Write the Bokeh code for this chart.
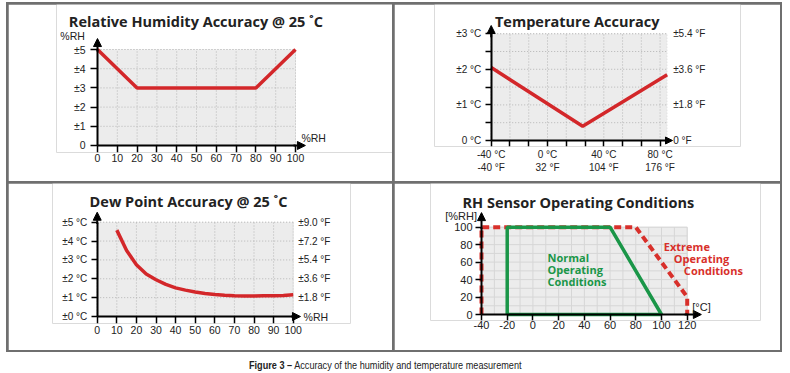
from bokeh.plotting import figure
from bokeh.models import FixedTicker, LinearAxis, Label, Arrow, NormalHead, BoxAnnotation, Div, Spacer
from bokeh.layouts import column, row
from bokeh.embed import file_html
from bokeh.resources import INLINE

TICK_FONT = "Liberation Sans"
TITLE_FONT = "Open Sans"
RED = "#d3272a"
RED_D = "#d8302b"
GREEN = "#1a9648"
GRID = "#b5b5b5"
BG = "#ececec"
FRAME = "#6f6f6f"
TXT = "#222222"

# ---------------- data ----------------
rh_x = [0, 20, 80, 100]
rh_acc = [5, 3, 3, 5]
rh_y_ticks = [0, 1, 2, 3, 4, 5]
rh_y_labels = ["0", "±1", "±2", "±3", "±4", "±5"]
rh_x_ticks = [0, 10, 20, 30, 40, 50, 60, 70, 80, 90, 100]
rh_x_labels = ["0", "10", "20", "30", "40", "50", "60", "70", "80", "90", "100"]

temp_c = [-40, 25, 85]
temp_acc = [2.05, 0.4, 1.85]
temp_x_ticks = [-40, 0, 40, 80]
temp_x_labels = ["-40 °C\n-40 °F", "0 °C\n32 °F", "40 °C\n104 °F", "80 °C\n176 °F"]
temp_x_minor = [-26.67, -13.33, 13.33, 26.67, 53.33, 66.67]
temp_y_ticks = [0, 1, 2, 3]
temp_y_minor = [0.5, 1.5, 2.5]
temp_y_labels_c = ["0 °C", "±1 °C", "±2 °C", "±3 °C"]
temp_y_labels_f = ["0 °F", "±1.8 °F", "±3.6 °F", "±5.4 °F"]

dp_rh = [10, 15, 20, 25, 30, 35, 40, 45, 50, 55, 60, 65, 70, 75, 80, 85, 90, 95, 100]
dp_acc = [4.58, 3.5, 2.75, 2.25, 1.95, 1.7, 1.52, 1.4, 1.3, 1.22, 1.17, 1.13, 1.1,
          1.09, 1.09, 1.1, 1.1, 1.12, 1.15]
dp_x_ticks = [0, 10, 20, 30, 40, 50, 60, 70, 80, 90, 100]
dp_x_labels = ["0", "10", "20", "30", "40", "50", "60", "70", "80", "90", "100"]
dp_y_ticks = [0, 1, 2, 3, 4, 5]
dp_y_labels_c = ["±0 °C", "±1 °C", "±2 °C", "±3 °C", "±4 °C", "±5 °C"]
dp_y_ticks_f = [1, 2, 3, 4, 5]
dp_y_labels_f = ["±1.8 °F", "±3.6 °F", "±5.4 °F", "±7.2 °F", "±9.0 °F"]

op_x_ticks = [-40, -20, 0, 20, 40, 60, 80, 100, 120]
op_x_labels = ["-40", "-20", "0", "20", "40", "60", "80", "100", "120"]
op_y_ticks = [0, 20, 40, 60, 80, 100]
op_y_labels = ["0", "20", "40", "60", "80", "100"]
op_grid_x = [-40, -30, -20, -10, 0, 10, 20, 30, 40, 50, 60, 70, 80, 90, 100, 110, 120]
op_grid_y = [0, 10, 20, 30, 40, 50, 60, 70, 80, 90, 100]
normal_t = [-20, -20, 60, 100, -20]
normal_rh = [0, 100, 100, 0, 0]
extreme_t = [-40, -40, 80, 120, 120]
extreme_rh = [0, 100, 100, 20, 0]


# ---------------- helpers ----------------
def base_fig(fw, fh, left, right, top, bottom, xr, yr):
    p = figure(frame_width=fw, frame_height=fh, x_range=xr, y_range=yr,
               min_border_left=left, min_border_right=right,
               min_border_top=top, min_border_bottom=bottom,
               x_axis_location=None,
               output_backend="svg", toolbar_location=None,
               background_fill_color="white", border_fill_color="white")
    p.outline_line_color = None
    p.xgrid.visible = False
    p.ygrid.visible = False
    return p


def plot_area(p, x0, x1, y0, y1, line_color="#a8a8a8", dash="1 2"):
    p.add_layout(BoxAnnotation(left=x0, right=x1, bottom=y0, top=y1, fill_color=BG, fill_alpha=1,
                               line_color=line_color, line_width=1, line_dash=dash, level="image"))


def grid_lines(p, xs, ys, x0, x1, y0, y1, color=GRID, dash="1 2"):
    p.segment(x0=xs, y0=[y0] * len(xs), x1=xs, y1=[y1] * len(xs),
              line_color=color, line_width=1, line_dash=dash)
    p.segment(x0=[x0] * len(ys), y0=ys, x1=[x1] * len(ys), y1=ys,
              line_color=color, line_width=1, line_dash=dash)


def style_axis(ax, ticks, labels, tick_out=6, standoff=4, size="10px", minor=None, line=True,
               loc=None, bounds=None):
    ax.ticker = FixedTicker(ticks=ticks, minor_ticks=minor or [])
    ax.major_label_overrides = dict(zip(ticks, labels))
    ax.axis_line_color = "black" if line else None
    ax.axis_line_width = 2
    ax.major_tick_line_color = "black" if line else None
    ax.major_tick_line_width = 1.5
    ax.major_tick_in = 0
    ax.major_tick_out = tick_out
    ax.minor_tick_line_color = "black" if (minor and line) else None
    ax.minor_tick_line_width = 1.5
    ax.minor_tick_in = 0
    ax.minor_tick_out = tick_out
    ax.major_label_standoff = standoff
    ax.major_label_text_font = TICK_FONT
    ax.major_label_text_font_size = size
    ax.major_label_text_color = TXT
    if loc is not None:
        ax.fixed_location = loc
    if bounds is not None:
        ax.bounds = bounds


def x_axes(p, ticks, labels, standoff, size, tick_out, bounds, minor=None):
    # labels: ordinary axis next to the frame (no line, no ticks)
    lab = LinearAxis()
    p.add_layout(lab, "below")
    style_axis(lab, ticks, labels, tick_out=0, standoff=standoff, size=size, line=False)
    # axis line + ticks drawn at y = 0
    tk = LinearAxis()
    p.add_layout(tk, "below")
    style_axis(tk, ticks, [""] * len(ticks), tick_out=tick_out, standoff=0, size="0px",
               minor=minor, loc=0, bounds=bounds)


def text(p, x, y, s, size="10.5px", font=TICK_FONT, bold=False, color=TXT, align="left",
         baseline="middle"):
    p.add_layout(Label(x=x, y=y, text=s, text_font=font,
                       text_font_size=size, text_font_style="bold" if bold else "normal",
                       text_color=color, text_align=align, text_baseline=baseline))


def title(p, x, y, s):
    text(p, x, y, s, size="14.5px", font=TITLE_FONT, bold=True, align="center",
         baseline="alphabetic")


def arrow(p, x0, y0, x1, y1, size=8):
    p.add_layout(Arrow(end=NormalHead(size=size, fill_color="black", line_color="black",
                                      line_width=1),
                       x_start=x0, y_start=y0, x_end=x1, y_end=y1,
                       line_color="black", line_width=2))


# ---------------- panel 1: RH accuracy ----------------
p1 = base_fig(336, 148, 48, 0, 0, 29, (-20.707, 148.99), (-0.3646, 7.344))
plot_area(p1, 0, 100, 0, 5)
grid_lines(p1, rh_x_ticks, rh_y_ticks, 0, 100, 0, 5)
style_axis(p1.yaxis[0], rh_y_ticks, rh_y_labels, tick_out=7, standoff=5, size="10.5px",
           loc=0, bounds=(0, 5))
x_axes(p1, rh_x_ticks, rh_x_labels, standoff=1, size="10.5px", tick_out=7, bounds=(0, 100))
p1.line(rh_x, rh_acc, line_color=RED, line_width=3.5)
arrow(p1, 0, 4.9, 0, 5.57)
arrow(p1, 99, 0, 105, 0)
title(p1, 49.7, 6.46, "Relative Humidity Accuracy @ 25 ˚C")
text(p1, -6.4, 5.7, "%RH", align="right")
text(p1, 103, 0.39, "%RH")

# ---------------- panel 2: temperature accuracy ----------------
p2 = base_fig(306, 142, 40, 40, 0, 35, (-80.28, 137.12), (-0.1685, 3.82))
plot_area(p2, -40, 85, 0, 3)
grid_lines(p2, temp_x_ticks + temp_x_minor, temp_y_ticks + temp_y_minor, -40, 85, 0, 3)
style_axis(p2.yaxis[0], temp_y_ticks, temp_y_labels_c, tick_out=6, standoff=4,
           minor=temp_y_minor, loc=-40, bounds=(0, 3))
x_axes(p2, temp_x_ticks, temp_x_labels, standoff=2, size="10px", tick_out=6,
       bounds=(-40, 85), minor=temp_x_minor)
ax2r = LinearAxis()
p2.add_layout(ax2r, "right")
style_axis(ax2r, temp_y_ticks, temp_y_labels_f, tick_out=0, standoff=6, line=False, loc=85)
p2.line(temp_c, temp_acc, line_color=RED, line_width=3.5)
arrow(p2, -40, 2.9, -40, 3.23)
arrow(p2, 84, 0, 88.8, 0, size=7)
title(p2, 21.1, 3.343, "Temperature Accuracy")

# ---------------- panel 3: dew point accuracy ----------------
p3 = base_fig(298, 140, 44, 42, 0, 27, (-22.81, 129.23), (-0.371, 7.052))
plot_area(p3, 0, 100, 0, 5)
grid_lines(p3, dp_x_ticks, dp_y_ticks, 0, 100, 0, 5)
style_axis(p3.yaxis[0], dp_y_ticks, dp_y_labels_c, tick_out=6, standoff=4, loc=0, bounds=(0, 5))
x_axes(p3, dp_x_ticks, dp_x_labels, standoff=2, size="10.5px", tick_out=7, bounds=(0, 100))
ax3r = LinearAxis()
p3.add_layout(ax3r, "right")
style_axis(ax3r, dp_y_ticks_f, dp_y_labels_f, tick_out=0, standoff=5, line=False, loc=100)
p3.line(dp_rh, dp_acc, line_color=RED, line_width=3.5)
arrow(p3, 0, 4.9, 0, 5.53)
arrow(p3, 99, 0, 103.7, 0)
title(p3, 46.6, 6.11, "Dew Point Accuracy @ 25 ˚C")
text(p3, 105.3, 0, "%RH")

# ---------------- panel 4: operating conditions ----------------
p4 = base_fig(330, 137, 36, 20, 0, 30, (-79.67, 177.0), (-6.87, 150.06))
plot_area(p4, -40, 120, 0, 100, line_color="#c4c4c4", dash="solid")
grid_lines(p4, op_grid_x, op_grid_y, -40, 120, 0, 100, color="#d6d6d6", dash="solid")
style_axis(p4.yaxis[0], op_y_ticks, op_y_labels, tick_out=6, standoff=3, size="11px",
           loc=-40, bounds=(0, 100))
x_axes(p4, op_x_ticks, op_x_labels, standoff=0, size="11px", tick_out=6, bounds=(-40, 120))
p4.line(extreme_t, extreme_rh, line_color=RED_D, line_width=4, line_dash="7 4")
p4.line(normal_t, normal_rh, line_color=GREEN, line_width=3.5)
arrow(p4, -40, 98, -40, 116.7)
arrow(p4, 118, 0, 131, 0)
title(p4, 35.3, 128.6, "RH Sensor Operating Conditions")
text(p4, -43.5, 112.5, "[%RH]", size="11px", align="right")
text(p4, 123.9, 8.4, "[°C]", size="11px")
for s, yy in zip(["Normal", "Operating", "Conditions"], [65.3, 51.5, 37.8]):
    text(p4, 11.3, yy, s, size="11px", font=TITLE_FONT, bold=True, color=GREEN)
for s, xx, yy in zip(["Extreme", "Operating", "Conditions"], [101.8, 109.6, 117.4],
                     [78.2, 64.0, 50.6]):
    text(p4, xx, yy, s, size="11px", font=TITLE_FONT, bold=True, color=RED_D)

# ---------------- layout ----------------
def vsp(h):
    return Spacer(width=2, height=h)

top_row = row(vsp(177), p1, vsp(177), p2, vsp(177))
bot_row = row(vsp(167), p3, vsp(167), p4, vsp(167))
grid = column(Spacer(width=776, height=2), top_row, Spacer(width=776, height=2), bot_row,
              Spacer(width=776, height=2), styles={"background-color": FRAME})

caption = Div(text=('<div style="position:relative; top:0px; left:238px; display:inline-block; '
                    'transform:scaleX(0.83); transform-origin:left center; '
                    'font-family:\'Liberation Sans\'; font-size:11px; color:#222; '
                    'white-space:nowrap"><b>Figure 3 –</b> Accuracy of the humidity and '
                    'temperature measurement</div>'),
              width=776, height=19)

root = column(grid, caption, styles={"margin-left": "6px", "margin-top": "2px"})

open("out.html", "w").write(file_html(root, INLINE))
